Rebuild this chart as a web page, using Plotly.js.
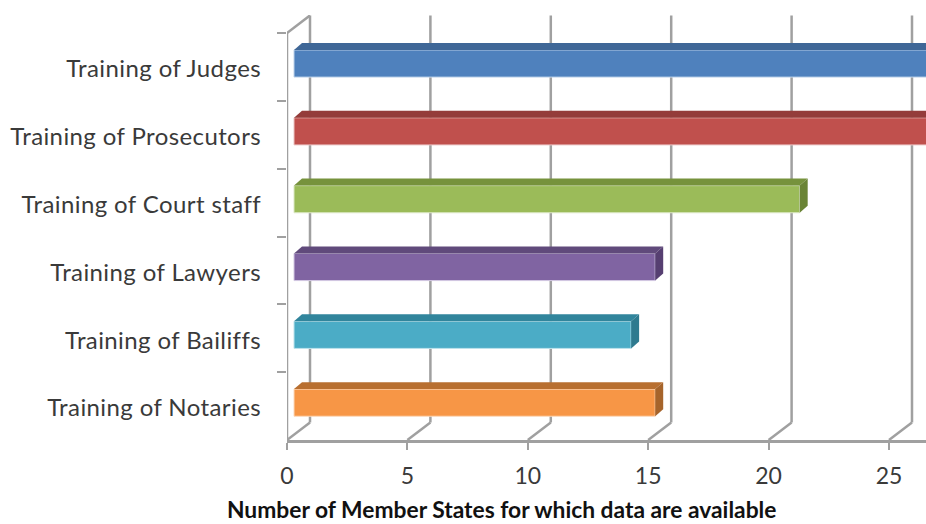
<!DOCTYPE html>
<html><head><meta charset="utf-8">
<script src="https://cdn.plot.ly/plotly-3.0.1.min.js"></script>
<style>html,body{margin:0;padding:0;background:#fff;overflow:hidden}
.ytick text{letter-spacing:.4px}
g.ytick{transform:translateY(2px)}</style>
</head><body><div id="chart" style="width:926px;height:524px"></div>
<script>
const categories = ["Training of Judges","Training of Prosecutors","Training of Court staff","Training of Lawyers","Training of Bailiffs","Training of Notaries"];
const memberStates = [27,27,21,15,14,15];
const xTicks = [0,5,10,15,20,25];
const xTitle = "Number of Member States for which data are available";

const frontColors = ["#4F81BD","#C0504D","#9BBB59","#8064A2","#4BACC6","#F79646"];
const topColors   = ["#3F6797","#943C3A","#76923C","#604A7B","#31859C","#B86F30"];
const sideColors  = ["#375A84","#833533","#6A8435","#563F71","#2E7A8F","#A6642B"];
const edgeColors  = ["#BFD3EA","#EBC5C4","#DCE8C5","#D3C8E2","#BDE3EC","#FCD9BC"];

const GRID = "#A0A0A0";
const pxX = 24.08, pxY = 67.84;
const wallX = 23/pxX, wallY = 17.6/pxY;
const barBase = 7/pxX, barOff = -0.25, barW = 0.4;
const capX = 8/pxX, capY = 7/pxY;

const shapes = [];
const line = (x0,y0,x1,y1) => shapes.push({type:"line",layer:"below",xref:"x",yref:"y",x0,y0,x1,y1,line:{color:GRID,width:2.5}});
const yBottom = categories.length-0.5, yTop = -0.5;
line(0,yBottom,0,yTop);
line(0,yTop,wallX,yTop-wallY);
xTicks.forEach(t=>{
  line(t+wallX,yBottom-wallY,t+wallX,yTop-wallY);
  line(t,yBottom,t+wallX,yBottom-wallY);
});
memberStates.forEach((v,i)=>{
  const x0=barBase, x1=barBase+v, t=i+barOff, b=t+barW;
  shapes.push({type:"path",layer:"above",xref:"x",yref:"y",fillcolor:topColors[i],line:{width:0},
    path:`M ${x0} ${t} L ${x0+capX} ${t-capY} L ${x1+capX} ${t-capY} L ${x1} ${t} Z`});
  shapes.push({type:"path",layer:"above",xref:"x",yref:"y",fillcolor:sideColors[i],line:{width:0},
    path:`M ${x1} ${t} L ${x1+capX} ${t-capY} L ${x1+capX} ${b-capY} L ${x1} ${b} Z`});
});

const trace = {type:"bar",orientation:"h",y:categories,x:memberStates,base:barBase,
  offset:barOff,width:barW,marker:{color:frontColors,line:{color:edgeColors,width:1}},hoverinfo:"x+y"};

const layout = {
  width:926,height:524,paper_bgcolor:"#fff",plot_bgcolor:"rgba(0,0,0,0)",showlegend:false,
  margin:{l:287,r:0,t:15,b:84},
  font:{family:"Lato, sans-serif",color:"#3A3A3A"},
  shapes,
  annotations:[{xref:"paper",yref:"paper",x:(501-287)/639,y:-69/425,xanchor:"center",yanchor:"middle",showarrow:false,
    text:"<b>"+xTitle+"</b>",font:{size:22.8,color:"#111",family:"Lato, sans-serif"}}],
  xaxis:{range:[0,639/pxX],tickvals:xTicks,ticks:"outside",ticklen:7,tickwidth:2,tickcolor:GRID,
    showline:true,linecolor:GRID,linewidth:2.5,showgrid:false,zeroline:false,
    tickfont:{size:23,color:"#3A3A3A"},ticklabelstandoff:7},
  yaxis:{type:"category",categoryorder:"array",categoryarray:categories,range:[yBottom,yTop-18/pxY],
    tickson:"boundaries",ticks:"outside",ticklen:9,tickwidth:2,tickcolor:GRID,showline:false,showgrid:false,zeroline:false,
    tickfont:{size:24,color:"#3A3A3A"},ticklabelstandoff:25}
};
Plotly.newPlot("chart",[trace],layout,{displayModeBar:false,responsive:false});
</script></body></html>
